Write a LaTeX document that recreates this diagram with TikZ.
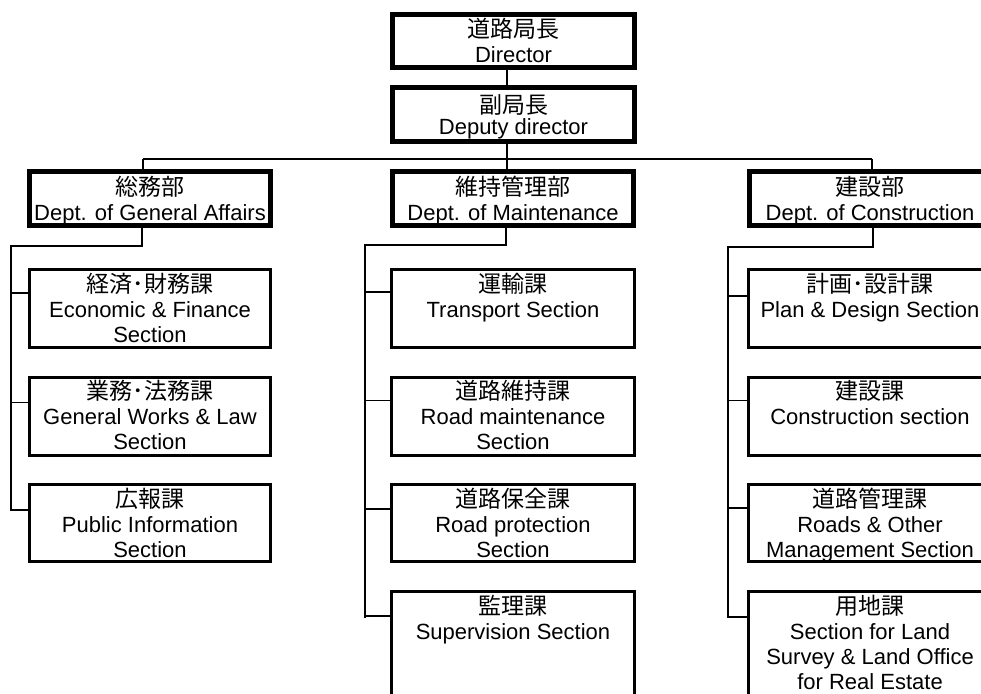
\documentclass[tikz,border=0pt]{standalone}
\usepackage{fontspec}
\setmainfont{Liberation Sans}
\newfontfamily\cjk{Noto Sans CJK JP}
\usetikzlibrary{calc}
\newcommand{\bx}[3]{\parbox[c][#1][t]{236pt}{\centering\vspace*{#2}#3}}
\newcommand{\jp}[1]{{\cjk\fontsize{23}{25}\selectfont #1}}
\tikzset{
  orgbox/.style={draw, rectangle, inner sep=0pt, font=\fontsize{22}{25}\selectfont},
  topbox/.style={orgbox, line width=5pt, minimum width=242pt},
  deptbox/.style={orgbox, line width=5pt, minimum width=241pt},
  secbox/.style={orgbox, line width=3pt, minimum width=243pt},
  link/.style={line width=1.2pt},
}
\begin{document}
\begin{tikzpicture}[x=1pt,y=-1pt]
\useasboundingbox (0,0) rectangle (981,693);
\fill[white] (0,0) rectangle (981,693);
\clip (0,0) rectangle (981,693);

% top
\node[topbox] (dir) at (513.5,41) {\bx{53pt}{3.5pt}{\jp{道路局長}\\Director}};
\node[topbox] (dep) at (513.5,114.5) {\bx{54pt}{7pt}{\jp{副局長}\\[-4pt]Deputy director}};

% departments
\node[deptbox] (ga) at (150,198.5) {\bx{54pt}{5pt}{\jp{総務部}\\Dept. of General Affairs}};
\node[deptbox] (mt) at (513,198.5) {\bx{54pt}{5pt}{\jp{維持管理部}\\Dept. of Maintenance}};
\node[deptbox] (cs) at (870,198.5) {\bx{54pt}{5pt}{\jp{建設部}\\Dept. of Construction}};

% general affairs sections
\node[secbox, minimum width=241pt] (ga1) at (150,308.5) {\bx{78pt}{3.5pt}{\jp{経済･財務課}\\Economic \& Finance\\Section}};
\node[secbox, minimum width=241pt] (ga2) at (150,416) {\bx{78pt}{3.5pt}{\jp{業務･法務課}\\General Works \& Law\\Section}};
\node[secbox, minimum width=241pt] (ga3) at (150,523) {\bx{77pt}{3.5pt}{\jp{広報課}\\Public Information\\Section}};

% maintenance sections
\node[secbox] (mt1) at (513,308.5) {\bx{78pt}{3.5pt}{\jp{運輸課}\\Transport Section}};
\node[secbox] (mt2) at (513,416) {\bx{78pt}{3.5pt}{\jp{道路維持課}\\Road maintenance\\Section}};
\node[secbox] (mt3) at (513,523) {\bx{77pt}{3.5pt}{\jp{道路保全課}\\Road protection\\Section}};
\node[secbox] (mt4) at (513,650) {\bx{117pt}{3.5pt}{\jp{監理課}\\Supervision Section}};

% construction sections
\node[secbox] (cs1) at (870,308.5) {\bx{78pt}{3.5pt}{\jp{計画･設計課}\\Plan \& Design Section}};
\node[secbox] (cs2) at (870,416) {\bx{78pt}{3.5pt}{\jp{建設課}\\Construction section}};
\node[secbox] (cs3) at (870,523) {\bx{77pt}{3.5pt}{\jp{道路管理課}\\Roads \& Other\\Management Section}};
\node[secbox] (cs4) at (870,650) {\bx{117pt}{3.5pt}{\jp{用地課}\\Section for Land\\Survey \& Land Office\\for Real Estate}};

% trunk and bar
\coordinate (barL) at (143,159);
\coordinate (barM) at (507,159);
\coordinate (barR) at (872,159);
\draw[link] (dir.south -| barM) -- (dep.north -| barM);
\draw[link] (dep.south -| barM) -- (barM);
\draw[link] (barL) -- (barR);
\draw[link] (barL) -- (ga.north -| barL);
\draw[link] (barM) -- (mt.north -| barM);
\draw[link] (barR) -- (cs.north -| barR);

% general affairs branch
\coordinate (gaJ) at (142,246);
\coordinate (gaV) at (11,246);
\coordinate (gt1) at ($(ga1.north west)+(0,25)$);
\coordinate (gt2) at ($(ga2.north west)+(0,27)$);
\coordinate (gt3) at ($(ga3.north west)+(0,27)$);
\draw[link] (ga.south -| gaJ) -- (gaJ) -- (gaV) -- (gaV |- gt3) -- (gt3);
\draw[link] (gaV |- gt1) -- (gt1);
\draw[link] (gaV |- gt2) -- (gt2);

% maintenance branch
\coordinate (mtJ) at (506,245);
\coordinate (mtV) at (365,245);
\coordinate (mtt1) at ($(mt1.north west)+(0,24)$);
\coordinate (mtt2) at ($(mt2.north west)+(0,25)$);
\coordinate (mtt3) at ($(mt3.north west)+(0,26)$);
\coordinate (mtt4) at ($(mt4.north west)+(0,26)$);
\draw[link] (mt.south -| mtJ) -- (mtJ) -- (mtV) -- ($(mtV |- mtt4)+(0,2)$);
\draw[link] (mtV |- mtt1) -- (mtt1);
\draw[link] (mtV |- mtt2) -- (mtt2);
\draw[link] (mtV |- mtt3) -- (mtt3);
\draw[link] (mtV |- mtt4) -- (mtt4);

% construction branch
\coordinate (csJ) at (873,247);
\coordinate (csV) at (728,247);
\coordinate (cst1) at ($(cs1.north west)+(0,28)$);
\coordinate (cst2) at ($(cs2.north west)+(0,25)$);
\coordinate (cst3) at ($(cs3.north west)+(0,25)$);
\coordinate (cst4) at ($(cs4.north west)+(0,27)$);
\draw[link] (cs.south -| csJ) -- (csJ) -- (csV) -- (csV |- cst4) -- (cst4);
\draw[link] (csV |- cst1) -- (cst1);
\draw[link] (csV |- cst2) -- (cst2);
\draw[link] (csV |- cst3) -- (cst3);
\end{tikzpicture}
\end{document}
